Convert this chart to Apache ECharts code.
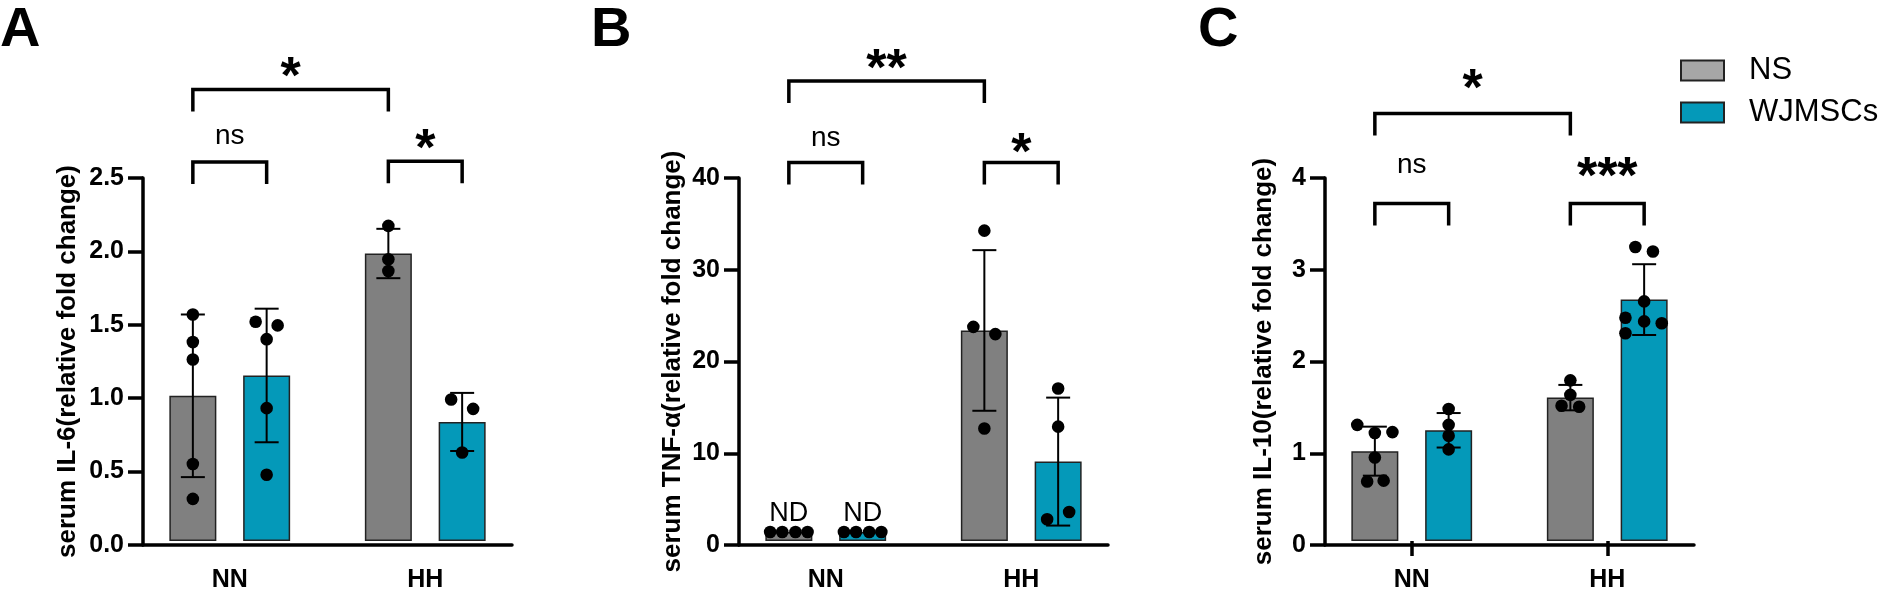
<!DOCTYPE html>
<html>
<head>
<meta charset="utf-8">
<script src="https://cdn.jsdelivr.net/npm/echarts/dist/echarts.min.js"></script>
<style>
  html, body { margin: 0; padding: 0; background: #fff; }
  #chart { width: 1890px; height: 593px; }
</style>
</head>
<body>
<div id="chart"></div>
<script>
const groups = ['NN', 'HH'];

// A: serum IL-6
const il6NsMean = [1.0, 1.98];
const il6NsSd = [0.56, 0.17];
const il6WjMean = [1.14, 0.82];
const il6WjSd = [0.46, 0.20];
const il6NsDots = [[1.56, 1.37, 1.25, 0.53, 0.29], [2.17, 1.94, 1.86]];
const il6NsSlots = [[0, 0, 0, 0, 0], [0, 0, 0]];
const il6WjDots = [[1.51, 1.485, 1.39, 0.915, 0.456], [0.975, 0.91, 0.61]];
const il6WjSlots = [[-1, 1, 0, 0, 0], [-1, 1, 0]];
// [groupA, seriesA, groupB, seriesB, bracket level, label level]
const il6Brackets = [[0, 0, 1, 0, 3.11, 3.27], [0, 0, 0, 1, 2.61, 2.79], [1, 0, 1, 1, 2.615, 2.77]];
const il6BracketText = ['*', 'ns', '*'];

// B: serum TNF-a
const tnfNsMean = [1, 23.2];
const tnfNsSd = [0, 8.85];
const tnfWjMean = [1, 8.75];
const tnfWjSd = [0, 7.05];
const tnfNsDots = [[1, 1, 1, 1], [34.2, 23.6, 22.8, 12.4]];
const tnfNsSlots = [[-1.7, -0.6, 0.6, 1.7], [0, -1, 1, 0]];
const tnfWjDots = [[1, 1, 1, 1], [16.8, 12.6, 3.2, 2.4]];
const tnfWjSlots = [[-1.7, -0.6, 0.6, 1.7], [0, 0, 1, -1]];
const tnfNsNote = ['ND', ''];
const tnfWjNote = ['ND', ''];
const tnfBrackets = [[0, 0, 1, 0, 50.7, 53.2], [0, 0, 0, 1, 41.7, 44.4], [1, 0, 1, 1, 41.7, 43.9]];
const tnfBracketText = ['**', 'ns', '*'];

// C: serum IL-10
const il10NsMean = [0.99, 1.58];
const il10NsSd = [0.27, 0.14];
const il10WjMean = [1.22, 2.66];
const il10WjSd = [0.19, 0.39];
const il10NsDots = [[1.28, 1.20, 1.19, 0.92, 0.655, 0.665], [1.77, 1.61, 1.49, 1.48]];
const il10NsSlots = [[-1.6, 1.6, 0, 0, -0.7, 0.8], [0, 0, -0.8, 0.8]];
const il10WjDots = [[1.455, 1.28, 1.16, 1.01], [3.24, 3.19, 2.64, 2.46, 2.42, 2.40, 2.29]];
const il10WjSlots = [[0, 0, 0, 0], [-0.8, 0.8, 0, -1.7, 0, 1.6, -1.7]];
const il10Brackets = [[0, 0, 1, 0, 4.71, 5.10], [0, 0, 0, 1, 3.72, 4.14], [1, 0, 1, 1, 3.72, 4.12]];
const il10BracketText = ['*', 'ns', '***'];

const FONT = '"Liberation Sans", Arial, Helvetica, sans-serif';
const GRAY = '#808080';
const TEAL = '#0499b9';
const BAR_W = 47;
const BAR_GAP = 0.57;
const OFFS = [-BAR_W * (1 + BAR_GAP) / 2, BAR_W * (1 + BAR_GAP) / 2];
const SLOT_PX = 11;
const DOT_R = 6.3;
const CAP = 12;
const LEG = 22;
const AX_W = 369;
const GROUP_STEP = 195.5;
const GRID_TOP = 178;
const GRID_H = 367;

const panels = [
  { letter: 'A', letterX: 0, left: 143, max: 2.5, interval: 0.5, digits: 1, nameGap: 62,
    title: 'serum IL-6(relative fold change)',
    ns: [il6NsMean, il6NsSd, il6NsDots, il6NsSlots], wj: [il6WjMean, il6WjSd, il6WjDots, il6WjSlots],
    brackets: il6Brackets, bracketText: il6BracketText, xTicks: false },
  { letter: 'B', letterX: 591, left: 739, max: 40, interval: 10, digits: 0, nameGap: 53,
    title: 'serum TNF-α(relative fold change)',
    ns: [tnfNsMean, tnfNsSd, tnfNsDots, tnfNsSlots], wj: [tnfWjMean, tnfWjSd, tnfWjDots, tnfWjSlots],
    notes: [tnfNsNote, tnfWjNote],
    brackets: tnfBrackets, bracketText: tnfBracketText, xTicks: false },
  { letter: 'C', letterX: 1198, left: 1325, max: 4, interval: 1, digits: 0, nameGap: 48,
    title: 'serum IL-10(relative fold change)',
    ns: [il10NsMean, il10NsSd, il10NsDots, il10NsSlots], wj: [il10WjMean, il10WjSd, il10WjDots, il10WjSlots],
    brackets: il10Brackets, bracketText: il10BracketText, xTicks: true }
];

const grid = [], xAxis = [], yAxis = [], series = [], graphic = [];
const blackLine = { color: '#000', width: 3.5 };

function errorSeries(p, mean, sd, s) {
  return {
    type: 'custom', xAxisIndex: 2 * p, yAxisIndex: 2 * p, z: 5, clip: false,
    data: mean.map((m, i) => [i, m, sd[i]]),
    renderItem: function (params, api) {
      const d = api.value(2);
      if (!d) return null;
      const ci = api.value(0), m = api.value(1);
      const x = api.coord([ci, m])[0] + OFFS[s];
      const top = api.coord([ci, m + d])[1];
      const bot = api.coord([ci, m - d])[1];
      const st = { stroke: '#000', lineWidth: 2 };
      return { type: 'group', children: [
        { type: 'line', shape: { x1: x, y1: top, x2: x, y2: bot }, style: st },
        { type: 'line', shape: { x1: x - CAP, y1: top, x2: x + CAP, y2: top }, style: st },
        { type: 'line', shape: { x1: x - CAP, y1: bot, x2: x + CAP, y2: bot }, style: st }
      ] };
    }
  };
}

function dotSeries(p, dots, slots, s) {
  const data = [];
  dots.forEach((arr, ci) => arr.forEach((v, k) => data.push([ci, v, slots[ci][k]])));
  return {
    type: 'custom', xAxisIndex: 2 * p, yAxisIndex: 2 * p, z: 6, clip: false, data: data,
    renderItem: function (params, api) {
      const c = api.coord([api.value(0), api.value(1)]);
      return { type: 'circle',
        shape: { cx: c[0] + OFFS[s] + api.value(2) * SLOT_PX, cy: c[1], r: DOT_R },
        style: { fill: '#000' } };
    }
  };
}

function noteSeries(p, notes, s) {
  return {
    type: 'custom', xAxisIndex: 2 * p, yAxisIndex: 2 * p, z: 6, clip: false,
    data: notes.map((t, i) => [i, 1]),
    renderItem: function (params, api) {
      const t = notes[params.dataIndex];
      if (!t) return null;
      const c = api.coord([api.value(0), api.value(1)]);
      return { type: 'text', x: c[0] + OFFS[s], y: c[1] - 18,
        style: { text: t, font: '27px ' + FONT, fill: '#000', align: 'center', verticalAlign: 'middle' } };
    }
  };
}

function bracketSeries(p, brackets, texts) {
  return {
    type: 'custom', xAxisIndex: 2 * p, yAxisIndex: 2 * p, z: 7, clip: false,
    data: brackets,
    renderItem: function (params, api) {
      const x1 = api.coord([api.value(0), 0])[0] + OFFS[api.value(1)];
      const x2 = api.coord([api.value(2), 0])[0] + OFFS[api.value(3)];
      const y = api.coord([0, api.value(4)])[1];
      const ty = api.coord([0, api.value(5)])[1];
      const t = texts[params.dataIndex];
      const star = t.indexOf('*') >= 0;
      return { type: 'group', children: [
        { type: 'polyline', shape: { points: [[x1, y + LEG], [x1, y], [x2, y], [x2, y + LEG]] },
          style: { stroke: '#000', lineWidth: 3.5, fill: null, lineJoin: 'miter' } },
        { type: 'text', x: (x1 + x2) / 2, y: star ? ty + 12 : ty,
          style: { text: t, font: (star ? 'bold 52px ' : '28px ') + FONT, fill: '#000',
            align: 'center', verticalAlign: 'middle' } }
      ] };
    }
  };
}

panels.forEach((pn, p) => {
  const barLeft = pn.left - (2 * GROUP_STEP - AX_W) / 2;
  grid.push({ left: barLeft, top: GRID_TOP, width: 2 * GROUP_STEP, height: GRID_H });
  grid.push({ left: pn.left, top: GRID_TOP, width: AX_W, height: GRID_H });

  xAxis.push({
    gridIndex: 2 * p, type: 'category', data: groups,
    axisLine: { show: false },
    axisTick: { show: pn.xTicks, alignWithLabel: true, length: 15, lineStyle: blackLine },
    axisLabel: { margin: 27, color: '#000', fontSize: 25, fontWeight: 'bold', fontFamily: FONT },
    splitLine: { show: false }
  });
  xAxis.push({
    gridIndex: 2 * p + 1, type: 'value', min: 0, max: 1,
    axisLine: { show: true, onZero: false, lineStyle: blackLine },
    axisTick: { show: false }, axisLabel: { show: false }, splitLine: { show: false }
  });
  yAxis.push({ gridIndex: 2 * p, type: 'value', min: 0, max: pn.max, show: false, splitLine: { show: false } });
  yAxis.push({
    gridIndex: 2 * p + 1, type: 'value', min: 0, max: pn.max, interval: pn.interval,
    name: pn.title, nameLocation: 'middle', nameGap: pn.nameGap,
    nameTextStyle: { color: '#000', fontSize: 26, fontWeight: 'bold', fontFamily: FONT },
    axisLine: { show: true, lineStyle: blackLine },
    axisTick: { show: true, length: 15, lineStyle: blackLine },
    axisLabel: { margin: 19, color: '#000', fontSize: 25, fontWeight: 'bold', fontFamily: FONT,
      formatter: v => v.toFixed(pn.digits) },
    splitLine: { show: false }
  });

  [pn.ns, pn.wj].forEach((d, s) => {
    series.push({
      name: s === 0 ? 'NS' : 'WJMSCs', type: 'bar', xAxisIndex: 2 * p, yAxisIndex: 2 * p,
      data: d[0], barWidth: BAR_W, barGap: (BAR_GAP * 100) + '%', z: 2,
      itemStyle: { color: s === 0 ? GRAY : TEAL, borderColor: '#222', borderWidth: 1.5 }
    });
  });
  [pn.ns, pn.wj].forEach((d, s) => series.push(errorSeries(p, d[0], d[1], s)));
  [pn.ns, pn.wj].forEach((d, s) => series.push(dotSeries(p, d[2], d[3], s)));
  if (pn.notes) pn.notes.forEach((n, s) => series.push(noteSeries(p, n, s)));
  series.push(bracketSeries(p, pn.brackets, pn.bracketText));

  graphic.push({ type: 'text', x: pn.letterX, y: 31,
    style: { text: pn.letter, font: 'bold 56px ' + FONT, fill: '#000', align: 'left', verticalAlign: 'middle' } });
});

const chart = echarts.init(document.getElementById('chart'));
chart.setOption({
  animation: false,
  backgroundColor: '#fff',
  grid: grid,
  xAxis: xAxis,
  yAxis: yAxis,
  legend: {
    orient: 'vertical', left: 1675, top: 50, itemWidth: 43, itemHeight: 20, itemGap: 11,
    icon: 'rect', selectedMode: false,
    textStyle: { color: '#000', fontSize: 31, fontFamily: FONT, padding: [0, 0, 0, 20] },
    data: [
      { name: 'NS', itemStyle: { color: '#a6a6a6', borderColor: '#222', borderWidth: 2 } },
      { name: 'WJMSCs', itemStyle: { color: TEAL, borderColor: '#222', borderWidth: 2 } }
    ]
  },
  graphic: graphic,
  series: series
});
</script>
</body>
</html>
